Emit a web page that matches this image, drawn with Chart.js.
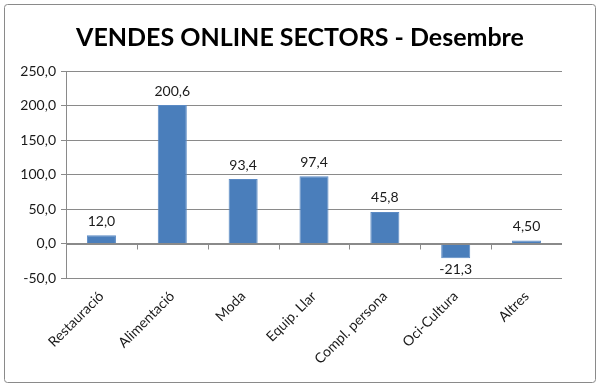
<!DOCTYPE html>
<html>
<head>
<meta charset="utf-8">
<script src="https://cdn.jsdelivr.net/npm/chart.js@4"></script>
<style>
  html, body { margin: 0; padding: 0; background: #fff; }
  #wrap { width: 600px; height: 387px; }
</style>
</head>
<body>
<div id="wrap"><canvas id="salesChart" width="600" height="387"></canvas></div>
<script>
// dades
const sectors = ['Restauració', 'Alimentació', 'Moda', 'Equip. Llar', 'Compl. persona', 'Oci-Cultura', 'Altres'];
const vendes = [12.0, 200.6, 93.4, 97.4, 45.8, -21.3, 4.5];
const decimals = [1, 1, 1, 1, 1, 1, 2];
const yMin = -50;
const yMax = 250;
const yStep = 50;

function fmt(v, d) {
    return v.toFixed(d).replace('.', ',');
}

// marc exterior
const frame = {
    id: 'frame',
    beforeDraw(chart) {
        const c = chart.ctx;
        c.save();
        c.strokeStyle = '#8a8a8a';
        c.lineWidth = 1;
        c.beginPath();
        c.roundRect(4.5, 4.5, chart.width - 9, chart.height - 9, 3);
        c.stroke();
        c.restore();
    }
};

// marques de l'eix a la línia del zero
const zeroTicks = {
    id: 'zeroTicks',
    afterDatasetsDraw(chart) {
        const c = chart.ctx;
        const x = chart.scales.x;
        const y0 = Math.round(chart.scales.y.getPixelForValue(0)) + 0.5;
        c.save();
        c.strokeStyle = '#8a8a8a';
        c.lineWidth = 1;
        c.beginPath();
        c.moveTo(chart.chartArea.left, y0);
        c.lineTo(chart.chartArea.right, y0);
        for (let i = 1; i < sectors.length; i++) {
            const px = Math.round((x.getPixelForValue(i - 1) + x.getPixelForValue(i)) / 2) + 0.5;
            c.moveTo(px, y0);
            c.lineTo(px, y0 + 5);
        }
        c.stroke();
        c.restore();
    }
};

// etiquetes de valor
const valueLabels = {
    id: 'valueLabels',
    afterDatasetsDraw(chart) {
        const c = chart.ctx;
        const meta = chart.getDatasetMeta(0);
        c.save();
        c.font = '14px Lato';
        c.fillStyle = '#1a1a1a';
        c.textAlign = 'center';
        meta.data.forEach(function (bar, i) {
            const v = vendes[i];
            if (v >= 0) {
                c.textBaseline = 'bottom';
                c.fillText(fmt(v, decimals[i]), bar.x, bar.y - 7);
            } else {
                c.textBaseline = 'top';
                c.fillText(fmt(v, decimals[i]), bar.x, bar.y + 4);
            }
        });
        c.restore();
    }
};

new Chart(document.getElementById('salesChart'), {
    type: 'bar',
    data: {
        labels: sectors,
        datasets: [{
            data: vendes,
            backgroundColor: '#4a7ebb',
            borderColor: '#5b8ac4',
            borderWidth: 1,
            categoryPercentage: 1,
            barPercentage: 0.41
        }]
    },
    options: {
        responsive: false,
        animation: false,
        layout: {
            padding: 0
        },
        plugins: {
            legend: { display: false },
            tooltip: { enabled: false },
            title: {
                display: true,
                text: 'VENDES ONLINE SECTORS - Desembre',
                color: '#000',
                font: { family: 'Lato', size: 25, weight: 'bold', lineHeight: 1.2 },
                padding: { top: 23, bottom: 18 }
            }
        },
        scales: {
            y: {
                min: yMin,
                max: yMax,
                ticks: {
                    stepSize: yStep,
                    color: '#1a1a1a',
                    font: { family: 'Lato', size: 14 },
                    padding: 5,
                    callback: function (value) {
                        return fmt(value, 1);
                    }
                },
                grid: {
                    color: '#8a8a8a',
                    tickLength: 5,
                    drawTicks: true
                },
                border: { color: '#8a8a8a' },
                afterFit: function (scale) {
                    scale.width = 66;
                }
            },
            // marge dret buit perquè el títol quedi centrat a la imatge
            yRight: {
                position: 'right',
                display: true,
                ticks: { display: false },
                grid: { display: false },
                border: { display: false },
                afterFit: function (scale) {
                    scale.width = 38;
                }
            },
            x: {
                grid: { display: false },
                border: { display: false },
                ticks: {
                    color: '#1a1a1a',
                    font: { family: 'Lato', size: 14 },
                    minRotation: 45,
                    maxRotation: 45,
                    padding: 2
                },
                afterFit: function (scale) {
                    scale.height = 109;
                }
            }
        }
    },
    plugins: [frame, zeroTicks, valueLabels]
});
</script>
</body>
</html>
